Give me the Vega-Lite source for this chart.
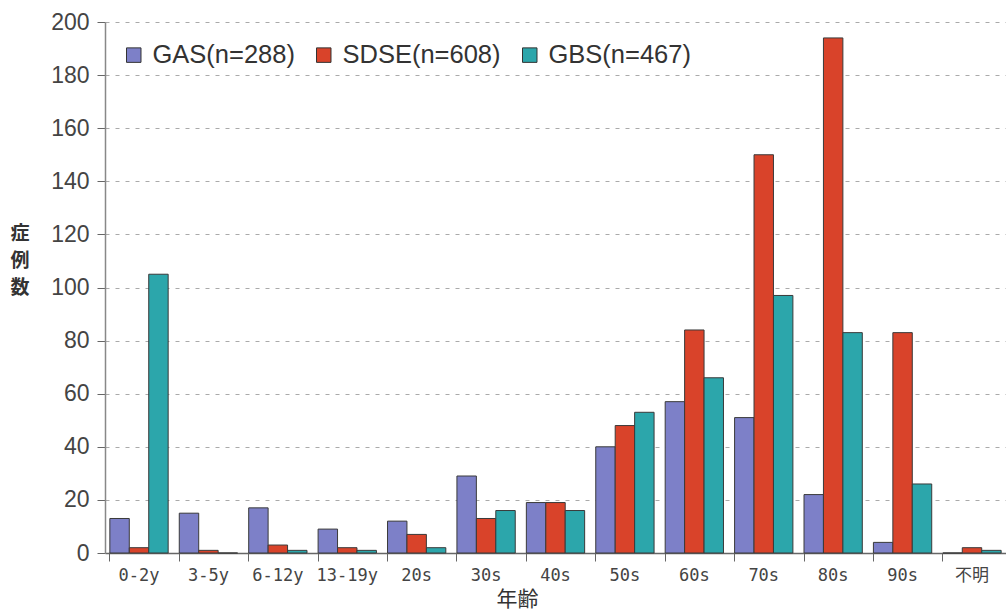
{
  "$schema": "https://vega.github.io/schema/vega-lite/v6.json",
  "width": 901,
  "height": 531,
  "autosize": {"type": "none"},
  "padding": {"left": 105, "top": 22, "right": 0, "bottom": 60},
  "background": "white",
  "config": {"view": {"stroke": null}, "font": "Liberation Sans"},
  "data": {"values": [
    {"age": "0-2y", "group": "GAS(n=288)", "n": 13},
    {"age": "0-2y", "group": "SDSE(n=608)", "n": 2},
    {"age": "0-2y", "group": "GBS(n=467)", "n": 105},
    {"age": "3-5y", "group": "GAS(n=288)", "n": 15},
    {"age": "3-5y", "group": "SDSE(n=608)", "n": 1},
    {"age": "3-5y", "group": "GBS(n=467)", "n": 0},
    {"age": "6-12y", "group": "GAS(n=288)", "n": 17},
    {"age": "6-12y", "group": "SDSE(n=608)", "n": 3},
    {"age": "6-12y", "group": "GBS(n=467)", "n": 1},
    {"age": "13-19y", "group": "GAS(n=288)", "n": 9},
    {"age": "13-19y", "group": "SDSE(n=608)", "n": 2},
    {"age": "13-19y", "group": "GBS(n=467)", "n": 1},
    {"age": "20s", "group": "GAS(n=288)", "n": 12},
    {"age": "20s", "group": "SDSE(n=608)", "n": 7},
    {"age": "20s", "group": "GBS(n=467)", "n": 2},
    {"age": "30s", "group": "GAS(n=288)", "n": 29},
    {"age": "30s", "group": "SDSE(n=608)", "n": 13},
    {"age": "30s", "group": "GBS(n=467)", "n": 16},
    {"age": "40s", "group": "GAS(n=288)", "n": 19},
    {"age": "40s", "group": "SDSE(n=608)", "n": 19},
    {"age": "40s", "group": "GBS(n=467)", "n": 16},
    {"age": "50s", "group": "GAS(n=288)", "n": 40},
    {"age": "50s", "group": "SDSE(n=608)", "n": 48},
    {"age": "50s", "group": "GBS(n=467)", "n": 53},
    {"age": "60s", "group": "GAS(n=288)", "n": 57},
    {"age": "60s", "group": "SDSE(n=608)", "n": 84},
    {"age": "60s", "group": "GBS(n=467)", "n": 66},
    {"age": "70s", "group": "GAS(n=288)", "n": 51},
    {"age": "70s", "group": "SDSE(n=608)", "n": 150},
    {"age": "70s", "group": "GBS(n=467)", "n": 97},
    {"age": "80s", "group": "GAS(n=288)", "n": 22},
    {"age": "80s", "group": "SDSE(n=608)", "n": 194},
    {"age": "80s", "group": "GBS(n=467)", "n": 83},
    {"age": "90s", "group": "GAS(n=288)", "n": 4},
    {"age": "90s", "group": "SDSE(n=608)", "n": 83},
    {"age": "90s", "group": "GBS(n=467)", "n": 26},
    {"age": "不明", "group": "GAS(n=288)", "n": 0},
    {"age": "不明", "group": "SDSE(n=608)", "n": 2},
    {"age": "不明", "group": "GBS(n=467)", "n": 1}
  ]},
  "mark": {"type": "bar", "stroke": "#3a3a3a", "strokeWidth": 1},
  "encoding": {
    "x": {
      "field": "age", "type": "nominal", "sort": null,
      "scale": {"paddingInner": 0.16, "paddingOuter": 0.07},
      "axis": {
        "title": "年齢", "titleFont": "Noto Sans CJK JP", "titleFontSize": 21, "titleFontWeight": "normal", "titleColor": "#333",
        "titleX": 412, "titleY": 35, "titleAnchor": "start", "titleAlign": "center", "titleBaseline": "top",
        "labelAngle": 0, "labelFont": "DejaVu Sans Mono, Noto Sans CJK JP", "labelFontSize": 17, "labelColor": "#444", "labelPadding": 6,
        "bandPosition": 0, "tickSize": 8, "tickColor": "#666", "domainColor": "#666", "domainWidth": 1.5, "grid": false
      }
    },
    "xOffset": {"field": "group", "type": "nominal", "sort": ["GAS(n=288)", "SDSE(n=608)", "GBS(n=467)"], "scale": {"paddingInner": 0, "paddingOuter": 0}},
    "y": {
      "field": "n", "type": "quantitative",
      "scale": {"domain": [0, 200], "nice": false},
      "axis": {
        "values": [0, 20, 40, 60, 80, 100, 120, 140, 160, 180, 200],
        "title": ["症", "例", "数"], "titleAngle": 0, "titleFont": "Noto Sans CJK JP", "titleFontSize": 19, "titleFontWeight": "bold", "titleColor": "#333",
        "titleX": -95, "titleY": 202, "titleAlign": "left", "titleBaseline": "top", "titleLineHeight": 27,
        "labelFontSize": 23, "labelColor": "#444", "labelPadding": 8,
        "tickSize": 8, "tickColor": "#666", "domainColor": "#888", "domainWidth": 1.5,
        "grid": true, "gridColor": "#aaa", "gridDash": [4, 6], "gridWidth": 1
      }
    },
    "color": {
      "field": "group", "type": "nominal", "sort": ["GAS(n=288)", "SDSE(n=608)", "GBS(n=467)"],
      "scale": {"domain": ["GAS(n=288)", "SDSE(n=608)", "GBS(n=467)"], "range": ["#7d80c8", "#d9432a", "#2ca6ab"]},
      "legend": {
        "orient": "none", "legendX": 16, "legendY": 20, "direction": "horizontal", "title": null,
        "symbolType": "square", "symbolSize": 210, "symbolStrokeColor": "#333", "symbolStrokeWidth": 1, "symbolOpacity": 1,
        "labelFontSize": 25.5, "labelColor": "#333", "labelLimit": 300, "columnPadding": 16, "labelOffset": 6,
        "fillColor": "white"
      }
    }
  }
}
